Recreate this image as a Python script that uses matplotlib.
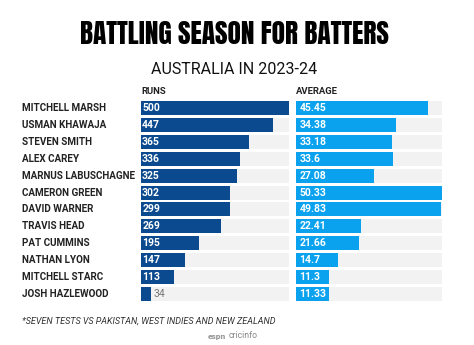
import matplotlib
matplotlib.use('Agg')
import matplotlib.pyplot as plt
from matplotlib.transforms import blended_transform_factory

players = ['MITCHELL MARSH', 'USMAN KHAWAJA', 'STEVEN SMITH', 'ALEX CAREY',
           'MARNUS LABUSCHAGNE', 'CAMERON GREEN', 'DAVID WARNER', 'TRAVIS HEAD',
           'PAT CUMMINS', 'NATHAN LYON', 'MITCHELL STARC', 'JOSH HAZLEWOOD']
runs = [500, 447, 365, 336, 325, 302, 299, 269, 195, 147, 113, 34]
average = [45.45, 34.38, 33.18, 33.6, 27.08, 50.33, 49.83, 22.41, 21.66, 14.7, 11.3, 11.33]
avg_labels = ['45.45', '34.38', '33.18', '33.6', '27.08', '50.33', '49.83',
              '22.41', '21.66', '14.7', '11.3', '11.33']

BODY = ['Roboto', 'DejaVu Sans']
TITLE = ['Anton', 'Bebas Neue', 'Oswald', 'Barlow Condensed', 'DejaVu Sans']
plt.rcParams['font.family'] = BODY

W, H = 474, 345
fig = plt.figure(figsize=(W / 100, H / 100), dpi=100)
fig.patch.set_facecolor('white')

top_px, bot_px = 99.5, 302.5


def make_ax(x0, x1):
    return fig.add_axes([x0 / W, 1 - bot_px / H, (x1 - x0) / W, (bot_px - top_px) / H])


ax1 = make_ax(141, 289)
ax2 = make_ax(295.7, 442)

n = len(players)
ypos = list(range(n))
bh = 0.83
dark = '#0b4a8e'
light = '#0aa2ef'
grey = '#f2f2f2'

for ax, vals, vmax, col in [(ax1, runs, 500, dark), (ax2, average, 50.33, light)]:
    ax.barh(ypos, [vmax] * n, height=bh, color=grey, linewidth=0)
    ax.barh(ypos, vals, height=bh, color=col, linewidth=0)
    ax.set_xlim(0, vmax)
    ax.set_ylim(n - 0.5, -0.5)
    ax.axis('off')

for i, v in enumerate(runs):
    if v > 60:
        ax1.text(4, i, str(v), color='white', fontsize=7.5, fontweight='bold',
                 va='center', ha='left')
    else:
        ax1.text(v + 8, i, str(v), color='#777777', fontsize=7.5,
                 va='center', ha='left')

for i, lab in enumerate(avg_labels):
    ax2.text(1.3, i, lab, color='white', fontsize=7.5, fontweight='bold',
             va='center', ha='left')

tr = blended_transform_factory(fig.transFigure, ax1.transData)
for i, p in enumerate(players):
    ax1.text(22 / W, i, p, transform=tr, fontsize=7.1, fontweight='bold',
             color='#222222', va='center', ha='left')

r = fig.canvas.get_renderer()


def fit_width(t, target):
    fs = t.get_fontsize()
    t.set_fontsize(fs * target / t.get_window_extent(r).width)


title = fig.text(234 / W, 1 - 34 / H, 'BATTLING SEASON FOR BATTERS', ha='center', va='center',
                 fontsize=24, family=TITLE, color='black')
fit_width(title, 310)

fig.text(234 / W, 1 - 70 / H, 'AUSTRALIA IN 2023-24', ha='center', va='center',
         fontsize=11.5, color='#111111')
fig.text(141 / W, 1 - 92 / H, 'RUNS', ha='left', va='center', fontsize=6.8,
         fontweight='bold', color='#222222')
fig.text(296 / W, 1 - 92 / H, 'AVERAGE', ha='left', va='center', fontsize=6.8,
         fontweight='bold', color='#222222')
foot = fig.text(22 / W, 1 - 321 / H, '*SEVEN TESTS VS PAKISTAN, WEST INDIES AND NEW ZEALAND',
                ha='left', va='center', fontsize=7, style='italic', color='#333333')
fit_width(foot, 255)
fig.text(208 / W, 1 - 336 / H, 'espn', ha='left', va='center', fontsize=6,
         fontweight='heavy', color='#9a9a9a')
fig.text(229 / W, 1 - 336 / H, 'cricinfo', ha='left', va='center', fontsize=6.3,
         color='#888888')

fig.savefig('out.png', dpi=100, facecolor='white')
